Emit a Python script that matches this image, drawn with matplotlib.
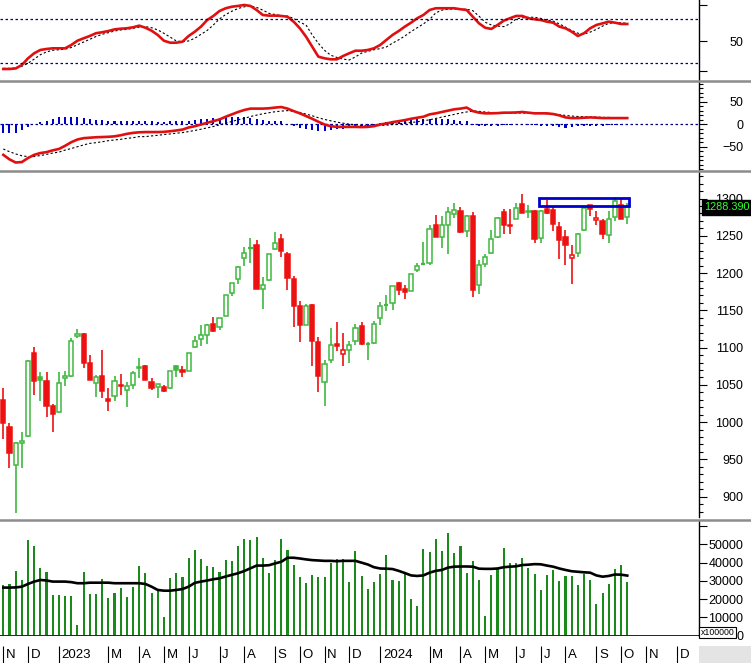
import matplotlib
matplotlib.use("Agg")
import matplotlib.pyplot as plt
from matplotlib.patches import Rectangle
from matplotlib.lines import Line2D
import matplotlib.transforms as mtrans
import numpy as np
import pandas as pd

plt.rcParams['font.family'] = ['Liberation Sans', 'DejaVu Sans']

# ---------------- weekly data ----------------
first_week = "2022-10-31"

opens = [1030, 994, 942, 972, 981, 1093, 1060, 1055, 1021, 1013,
         1059, 1062, 1115, 1118, 1080, 1052, 1062, 1031, 1035, 1050,
         1043, 1050, 1072, 1075, 1054, 1047, 1047, 1046, 1076, 1070,
         1069, 1101, 1111, 1117, 1132, 1127, 1143, 1173, 1192, 1220,
         1233, 1238, 1179, 1191, 1232, 1246, 1226, 1192, 1156, 1131,
         1157, 1107, 1054, 1083, 1105, 1091, 1097, 1109, 1129, 1105,
         1106, 1140, 1157, 1160, 1187, 1179, 1176, 1204, 1212, 1214,
         1265, 1248, 1264, 1279, 1284, 1256, 1277, 1184, 1212, 1227,
         1248, 1282, 1265, 1272, 1293, 1282, 1283, 1247, 1286, 1285,
         1262, 1248, 1220, 1227, 1258, 1291, 1271, 1270, 1251, 1275,
         1292, 1275]
highs = [1046, 999, 974, 987, 1083, 1101, 1067, 1067, 1025, 1067,
         1069, 1113, 1125, 1120, 1090, 1063, 1097, 1046, 1062, 1065,
         1054, 1069, 1086, 1077, 1059, 1051, 1050, 1069, 1077, 1076,
         1093, 1116, 1130, 1132, 1141, 1140, 1171, 1187, 1209, 1235,
         1247, 1244, 1195, 1225, 1255, 1253, 1228, 1196, 1163, 1158,
         1158, 1114, 1084, 1126, 1134, 1119, 1109, 1132, 1134, 1107,
         1136, 1161, 1171, 1183, 1188, 1184, 1199, 1213, 1242, 1265,
         1278, 1276, 1289, 1294, 1289, 1278, 1282, 1218, 1225, 1258,
         1275, 1286, 1286, 1294, 1306, 1292, 1285, 1285, 1298, 1290,
         1268, 1258, 1238, 1254, 1289, 1292, 1283, 1273, 1283, 1302,
         1301, 1294]
lows = [978, 939, 878, 938, 980, 1037, 1029, 1007, 987, 1012,
        1048, 1060, 1113, 1073, 1056, 1034, 1033, 1015, 1029, 1037,
        1020, 1044, 1059, 1056, 1043, 1032, 1040, 1045, 1061, 1060,
        1068, 1099, 1102, 1105, 1121, 1124, 1142, 1169, 1185, 1210,
        1214, 1178, 1152, 1190, 1231, 1222, 1177, 1128, 1108, 1130,
        1076, 1040, 1022, 1079, 1095, 1076, 1079, 1104, 1104, 1084,
        1105, 1131, 1149, 1151, 1171, 1165, 1176, 1201, 1211, 1211,
        1249, 1234, 1225, 1274, 1254, 1248, 1168, 1172, 1208, 1226,
        1247, 1252, 1252, 1272, 1280, 1274, 1241, 1241, 1279, 1257,
        1219, 1211, 1186, 1222, 1257, 1277, 1264, 1246, 1240, 1270,
        1272, 1266]
closes = [999, 958, 972, 975, 1082, 1055, 1056, 1022, 1011, 1052,
          1062, 1109, 1118, 1080, 1057, 1060, 1042, 1028, 1055, 1048,
          1049, 1066, 1074, 1057, 1046, 1051, 1042, 1068, 1070, 1067,
          1093, 1109, 1117, 1131, 1122, 1140, 1170, 1187, 1208, 1227,
          1234, 1179, 1184, 1225, 1241, 1229, 1194, 1156, 1131, 1156,
          1109, 1062, 1078, 1103, 1102, 1097, 1103, 1126, 1105, 1106,
          1132, 1156, 1158, 1183, 1177, 1174, 1199, 1210, 1213, 1259,
          1249, 1264, 1282, 1285, 1255, 1277, 1177, 1211, 1221, 1246,
          1274, 1264, 1263, 1287, 1281, 1284, 1246, 1284, 1281, 1266,
          1244, 1238, 1224, 1253, 1288, 1286, 1274, 1253, 1272, 1297,
          1273, 1288.39]

volumes = [27750, 28300, 35400, 30500, 52500, 49300, 36900, 34900, 22300, 22300,
           21700, 21700, 5800, 34900, 22800, 22800, 31000, 20800, 23500, 26100,
           21300, 26600, 38200, 34500, 23200, 25000, 10300, 31400, 34500, 32300,
           42400, 47000, 42000, 38200, 37800, 35000, 41500, 40900, 49200, 52900,
           52500, 54300, 42400, 34500, 41500, 53000, 47000, 38700, 32000, 29000,
           33200, 32000, 32000, 40000, 41900, 41900, 29600, 46400, 32700, 25500,
           29600, 33800, 44200, 30500, 30100, 34200, 20000, 16200, 47400, 45700,
           52900, 46400, 56200, 45200, 49200, 34500, 40900, 30500, 10700, 33200,
           36400, 47900, 39700, 39700, 42700, 36900, 33800, 25000, 33200, 36000,
           29900, 32700, 32700, 27700, 33800, 30500, 17300, 23500, 28300, 36400,
           38700, 29600]
vol_ma = [26300, 26300, 26400, 26800, 28300, 29600, 30500, 30200, 29600, 29600,
          29600, 29300, 28700, 28700, 29000, 29000, 29000, 29000, 28700, 28700,
          28700, 28700, 28700, 28300, 26800, 25000, 24600, 24600, 25000, 25500,
          26800, 28900, 29600, 30200, 30900, 31400, 32400, 33300, 34200, 35400,
          36900, 38400, 38400, 38600, 39600, 40500, 42700, 42700, 42300, 41800,
          41400, 41200, 41000, 41000, 40800, 41000, 41000, 41000, 40000, 39000,
          37500, 36800, 36700, 36500, 35500, 34300, 33000, 32700, 33000, 34500,
          35500, 36000, 37300, 37800, 37900, 37900, 37800, 36700, 36600, 36600,
          36800, 37500, 37800, 38000, 38700, 38900, 39200, 39100, 38400, 37800,
          36800, 36000, 35300, 35000, 34700, 34500, 33000, 32300, 32700, 33500,
          33400, 32900]

rsi = [25, 25, 25.5, 28.6, 34.7, 39.3, 42.3, 43.2, 43.8, 43.8,
       43.8, 46.8, 50.7, 52.9, 55, 57.5, 58.4, 59.5, 61, 61.6,
       62, 62.9, 64.4, 62.5, 59.8, 55.9, 50.7, 48.9, 48.9, 49.8,
       55, 58.9, 63.5, 69.5, 73.2, 77.7, 80.2, 81.6, 82.3, 83.2,
       82.3, 78.6, 74.1, 73.5, 73.5, 73.2, 72.5, 68, 62, 54.4,
       45.3, 36.2, 34.7, 33.8, 33.8, 36.8, 39.3, 41.6, 41.6, 42.3,
       43.8, 46.8, 51.4, 55.9, 59.5, 63.5, 67.1, 71.1, 74.1, 78.6,
       80.2, 80.2, 80.2, 80.2, 79.3, 78.6, 72.5, 66.5, 62.5, 61.4,
       65, 68.9, 71.1, 73.2, 73.2, 71.1, 70.2, 69.5, 68, 67.1,
       63.5, 62, 58.9, 55, 57.5, 62, 65, 66.5, 68, 67.1,
       65.9, 65.9]
rsi_signal = [25.6, 25.6, 25.8, 27.5, 30.2, 34, 38, 40.5, 42, 42.5,
              43, 44.5, 47, 49.5, 52, 54.5, 56.5, 58, 59.5, 60.5,
              61, 62, 63, 63.5, 62.5, 60.5, 57.4, 54, 50.5, 49.8,
              50.5, 53, 56.5, 60, 65, 70.5, 74.5, 77.5, 80, 81.5,
              82.3, 81, 78.5, 75.6, 74.5, 73.5, 73, 71, 67.5, 65,
              56, 48.3, 42, 37.5, 35.5, 34, 33.2, 36, 39.5, 41,
              42.5, 43.5, 45, 48.5, 51.5, 55, 59, 62.5, 66, 70,
              76, 78.5, 79.3, 79.5, 79.5, 79.3, 78, 73, 67.5, 65,
              64, 63.5, 66, 70.5, 71.5, 72, 72, 71, 69.5, 68.5,
              66, 63, 60, 57.5, 56.8, 58.5, 61, 64, 66.5, 67,
              67, 66.5]

macd = [-68, -78, -85, -84, -75, -68, -64, -62, -58, -55,
        -48, -40, -34, -31, -30, -29, -28.5, -28, -27, -24.6,
        -21.5, -19.3, -18, -17.5, -17.5, -17.5, -17, -15.7, -14, -12,
        -7.4, -4.5, -0.7, 3, 6.7, 10.5, 16.5, 21.7, 27, 31.4,
        34.5, 34.5, 34.5, 35.2, 36.8, 38, 34.5, 29, 24, 18,
        12, 5.4, -0.7, -4.5, -6, -6, -6, -6, -6.5, -6,
        -4.5, -0.7, 1.5, 4.5, 6.7, 9, 12, 14.3, 16.5, 21.7,
        24, 27, 30, 33, 34.5, 36.8, 29, 25.5, 24, 24,
        24.5, 25.5, 25.5, 26, 27, 25.5, 24, 24, 24, 22.5,
        19.5, 15, 13.5, 13.5, 14.3, 15, 14.3, 13.5, 13.5, 13.5,
        13.5, 13.5]
macd_signal = [-55, -61, -66, -70, -72, -71.7, -69.5, -67, -64, -62,
               -57.5, -54, -50, -46, -42.6, -41, -39, -36.6, -35, -33.6,
               -31.4, -30, -27.6, -27.6, -26, -24.7, -23, -21.7, -20, -18.7,
               -16.4, -14, -11.2, -8.2, -5.2, -1.5, 2.2, 6, 9.7, 12.7,
               17, 20, 23, 25.4, 27.6, 29, 30, 28.4, 26, 22.4,
               18.7, 14.2, 10.5, 7.5, 4.5, 2.2, 0, -1.5, -3, -3.7,
               -3.7, -3, -2.2, -0.7, 0.7, 2.2, 3.7, 5.2, 7.5, 9.7,
               12.7, 15.7, 18.7, 21.7, 24.7, 27, 29, 28.4, 27, 26,
               25.4, 24.7, 24.7, 24.7, 24.7, 24.7, 24.7, 24, 23, 22.4,
               21, 19.4, 18, 17, 16.4, 15.7, 15.7, 15, 15, 14.2,
               14.2, 13.4]
macd_hist = [-20, -20, -19, -13, -7, 0.7, 4, 6, 11, 16,
             17, 17, 16, 13, 11, 10, 10, 8, 8, 8,
             8, 7.5, 7.5, 6.7, 6, 5, 5, 6, 6.7, 7.5,
             8, 10, 11, 12, 12.7, 14, 16, 17, 17, 16,
             13, 11, 10, 8, 8, 6, 0.7, -4, -7.5, -11,
             -14, -16, -15, -13, -11, -10, -8, -7, -5, -4,
             -1.5, 2, 4.5, 6, 7.5, 8, 10, 11, 11, 12,
             11, 11, 11, 10, 8, 8, -2, -4, -4, -3,
             -3, -2, -1.5, -0.7, 0, -1.5, -2, -3, -4, -4.5,
             -6, -7.5, -7, -5, -4, -3, -3, -3, -2, -2,
             -2, -2]

# first trading day of each labelled month (Feb is not labelled on the chart)
month_starts = ["2022-11-01", "2022-12-01", "2023-01-03", "2023-03-01", "2023-04-03",
                "2023-05-04", "2023-06-01", "2023-07-03", "2023-08-01", "2023-09-05",
                "2023-10-02", "2023-11-01", "2023-12-01", "2024-01-02", "2024-03-01",
                "2024-04-01", "2024-05-02", "2024-06-03", "2024-07-01", "2024-08-01",
                "2024-09-04", "2024-10-01", "2024-11-01", "2024-12-02"]
month_labels = ["N", "D", "2023", "M", "A", "M", "J", "J", "A", "S", "O", "N", "D",
                "2024", "M", "A", "M", "J", "J", "A", "S", "O", "N", "D"]

# resistance zone marked on the chart
zone_low, zone_high = 1290.5, 1301
zone_first_week = 87

# ---------------- layout ----------------
W, H = 751, 663
RIGHT = 698.5
fig = plt.figure(figsize=(W / 100, H / 100), dpi=100)
fig.patch.set_facecolor("white")


def panel(top, bottom):
    ax = fig.add_axes([0, 1 - bottom / H, RIGHT / W, (bottom - top) / H])
    for s in ["left", "top", "bottom"]:
        ax.spines[s].set_visible(False)
    ax.spines["right"].set_color("black")
    ax.spines["right"].set_linewidth(1.0)
    ax.yaxis.tick_right()
    ax.set_xticks([])
    ax.tick_params(axis="y", which="major", direction="out", length=5.8, width=0.8,
                   labelsize=9, pad=26.5)
    ax.tick_params(axis="y", which="minor", direction="out", length=2.9, width=0.8)
    return ax


def right_align(ax):
    for lab in ax.get_yticklabels():
        lab.set_horizontalalignment("right")


n = len(closes)
x = np.arange(n)
xlim = (-0.534, 112.53)

ax_rsi = panel(0, 80)
ax_macd = panel(82, 170)
ax_px = panel(172.5, 517)
ax_vol = panel(521, 636)
ax_date = fig.add_axes([0, 0, RIGHT / W, 27 / H])
for a in [ax_rsi, ax_macd, ax_px, ax_vol, ax_date]:
    a.set_xlim(*xlim)

# gray separators between panels across the whole width
for ysep in [81, 171, 519.5]:
    fig.add_artist(Line2D([0, 1], [1 - ysep / H] * 2, transform=fig.transFigure,
                          color="#8c8c8c", lw=1.8))

# ---------------- RSI ----------------
ax_rsi.set_ylim(15, 87.7)
ax_rsi.plot(x, rsi_signal, color="black", lw=0.8, ls=(0, (2, 2)))
ax_rsi.plot(x, rsi, color="#e01010", lw=1.9)
for lvl in [70, 30]:
    ax_rsi.axhline(lvl, color="#000080", lw=0.9, ls=(0, (2, 2)))
ax_rsi.set_yticks([22.8, 50, 83.5])
ax_rsi.set_yticklabels(["", "50", ""])
right_align(ax_rsi)

# ---------------- MACD ----------------
ax_macd.set_ylim(-101.6, 93.5)
ax_macd.bar(x, macd_hist, width=0.33, color="#0000cc", zorder=2)
ax_macd.axhline(0, color="#000080", lw=0.9, ls=(0, (2, 2)), zorder=1)
ax_macd.plot(x, macd_signal, color="black", lw=0.8, ls=(0, (2, 2)), zorder=3)
ax_macd.plot(x, macd, color="#e01010", lw=1.9, zorder=4)
ax_macd.set_yticks([-50, 0, 50])
ax_macd.set_yticks(np.arange(-100, 91, 10), minor=True)
right_align(ax_macd)

# ---------------- price candles ----------------
ax_px.set_ylim(872.7, 1335)
green, red = "#3fb83f", "#ee1111"
prev = [opens[0] + 1] + closes[:-1]
body_w = 0.68
for i in range(n):
    o, h, l, c = opens[i], highs[i], lows[i], closes[i]
    col = green if c >= prev[i] else red
    filled = c < o
    ax_px.vlines(i, l, h, color=col, lw=1.2, zorder=1)
    lo, hi = min(o, c), max(o, c)
    if hi - lo < 1.2:
        ax_px.hlines((o + c) / 2, i - body_w / 2, i + body_w / 2, color=col, lw=1.6, zorder=2)
    else:
        ax_px.bar(i, hi - lo, bottom=lo, width=body_w,
                  facecolor=col if filled else "white", edgecolor=col, lw=1.1, zorder=2)

ax_px.add_patch(Rectangle((zone_first_week - 0.3, zone_low),
                          (n - 1) - zone_first_week + 0.65, zone_high - zone_low,
                          fill=False, edgecolor="#0000cc", lw=2.0, zorder=3))

ax_px.set_yticks(np.arange(900, 1301, 50))
ax_px.set_yticks(np.arange(880, 1331, 10), minor=True)
right_align(ax_px)
trans = mtrans.blended_transform_factory(ax_px.transAxes, ax_px.transData)
ax_px.text(1.008, closes[-1], f"{closes[-1]:.3f}", transform=trans, ha="left", va="center",
           color="#33ff33", fontsize=7.8, zorder=10,
           bbox=dict(facecolor="black", edgecolor="black", pad=1.8))

# ---------------- volume ----------------
ax_vol.set_ylim(-300, 62900)
ax_vol.bar(x, volumes, width=0.34, color="#1a8a1a", zorder=1)
ax_vol.plot(x, vol_ma, color="black", lw=1.9, zorder=2)
ax_vol.axhline(-300, color="black", lw=1.2)
ax_vol.set_yticks(np.arange(0, 60001, 10000))
ax_vol.set_yticklabels(["0", "10000", "20000", "30000", "40000", "50000", ""])
right_align(ax_vol)
ax_vol.text(1.003, 0.03, "x100000", transform=ax_vol.transAxes, ha="left", va="center",
            fontsize=6.3, color="black", zorder=10,
            bbox=dict(facecolor="white", edgecolor="black", lw=0.8, pad=1.0))

# ---------------- date strip ----------------
ax_date.set_ylim(0, 1)
ax_date.axis("off")
start = pd.Timestamp(first_week)
for d, lab in zip(month_starts, month_labels):
    wk = (pd.Timestamp(d) - start).days // 7
    ax_date.vlines(wk, 0, 0.64, color="black", lw=0.8)
    ax_date.text(wk + 0.45, 0.3, lab, ha="left", va="center", fontsize=9.5, color="black")

fig.add_artist(Rectangle((RIGHT / W, 0), 1 - RIGHT / W, 17 / H, transform=fig.transFigure,
                         facecolor="#e4e4e4", edgecolor="none", zorder=0))

fig.savefig("out.png", dpi=100)
